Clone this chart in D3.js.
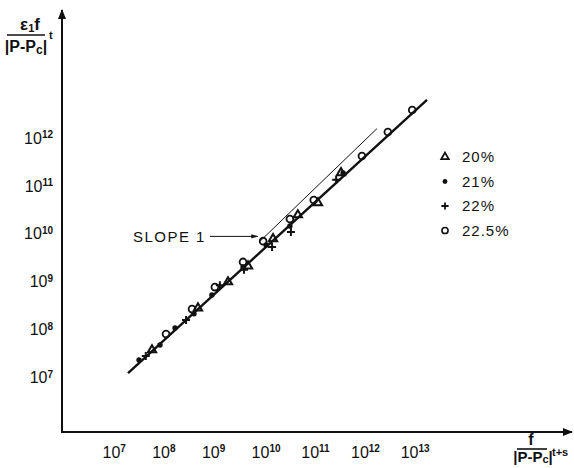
<!DOCTYPE html>
<html><head><meta charset="utf-8">
<script src="https://cdn.jsdelivr.net/npm/d3@7"></script>
<style>
body{margin:0;background:#fff;}
text{font-family:"Liberation Sans",Arial,sans-serif;fill:#111;}
</style></head>
<body><svg id="c" width="574" height="468"></svg>
<script>
// ---- data ----
const xTickExps = [7, 8, 9, 10, 11, 12, 13];
const yTickExps = [7, 8, 9, 10, 11, 12];
const legendLabels = ["20%", "21%", "22%", "22.5%"];

const s20x = [6.68e7, 5.62e8, 2.26e9, 5.71e9, 1.82e10, 5.75e10, 1.46e11, 4.25e11];
const s20y = [3.52e7, 2.63e8, 9.27e8, 2.0e9, 7.35e9, 2.33e10, 4.15e10, 1.76e11];

const s21x = [3.66e7, 9.68e7, 1.94e8, 4.68e8, 1.07e9, 4.53e9, 1.32e10, 3.98e10, 4.68e11];
const s21y = [2.17e7, 4.47e7, 1.01e8, 2.0e8, 4.97e8, 1.91e9, 5.5e9, 1.37e10, 1.76e11];

const s22x = [5.01e7, 3.24e8, 1.55e9, 4.74e9, 1.74e10, 4.17e10, 3.39e11];
const s22y = [2.63e7, 1.48e8, 7.94e8, 1.66e9, 5.01e9, 1.02e10, 1.26e11];

const s225x = [1.28e8, 4.27e8, 1.23e9, 4.53e9, 1.15e10, 3.98e10, 1.2e11, 1.12e12, 3.72e12, 1.15e13];
const s225y = [7.59e7, 2.51e8, 7.24e8, 2.43e9, 6.61e9, 1.91e10, 4.79e10, 3.98e11, 1.26e12, 3.63e12];

const fitX = [2.2e7, 2.28e13];
const fitY = [1.16e7, 5.89e12];
const slopeX = [1.0e10, 2.24e12];
const slopeY = [6.6e9, 1.48e12];
const slopeLabel = "SLOPE 1";
const slopeArrowX = [9.8e8, 8.9e9];
const slopeArrowY = [8.3e9, 8.3e9];

// ---- drawing ----
const svg = d3.select("#c");
const x = d3.scaleLog().domain([1e7, 1e13]).range([111, 409.2]);
const y = d3.scaleLog().domain([1e7, 1e12]).range([376.1, 136.8]);
const X0 = 62, Y0 = 432;

const defs = svg.append("defs");
defs.append("marker").attr("id","ah").attr("viewBox","0 0 10 10").attr("refX",9).attr("refY",5)
  .attr("markerWidth",5).attr("markerHeight",5).attr("orient","auto")
  .append("path").attr("d","M0,1 L10,5 L0,9 Z").attr("fill","#111");
defs.append("marker").attr("id","ah2").attr("viewBox","0 0 10 10").attr("refX",9).attr("refY",5)
  .attr("markerWidth",7).attr("markerHeight",7).attr("orient","auto")
  .append("path").attr("d","M0,2 L10,5 L0,8 Z").attr("fill","#111");

// axis lines
svg.append("line").attr("x1",X0).attr("y1",Y0).attr("x2",X0).attr("y2",10)
  .attr("stroke","#111").attr("stroke-width",2).attr("marker-end","url(#ah)");
svg.append("line").attr("x1",X0-1).attr("y1",Y0).attr("x2",572).attr("y2",Y0)
  .attr("stroke","#111").attr("stroke-width",2).attr("marker-end","url(#ah)");

function supLabels(g, exps, anchorMid){
  g.select(".domain").remove();
  g.selectAll(".tick line").remove();
  g.selectAll(".tick text").each(function(d){
    const t = d3.select(this).text(null).style("font-size","16px");
    const e = Math.round(Math.log10(d));
    if(anchorMid){ t.attr("text-anchor","start").attr("x",-9); }
    t.append("tspan").text("10");
    t.append("tspan").attr("dy","-0.55em").style("font-size","10px").style("font-weight","bold").text(e);
  });
}
const gx = svg.append("g").attr("transform",`translate(0,${Y0})`)
  .call(d3.axisBottom(x).tickValues(xTickExps.map(e=>Math.pow(10,e))).tickSize(0).tickPadding(9));
supLabels(gx, xTickExps, true);
gx.selectAll(".tick text").attr("dy","1.05em");

const gy = svg.append("g").attr("transform",`translate(${X0},0)`)
  .call(d3.axisLeft(y).tickValues(yTickExps.map(e=>Math.pow(10,e))).tickSize(0).tickPadding(9));
supLabels(gy, yTickExps, false);
gy.selectAll(".tick text").attr("dy","0.4em");

// fit line & slope-1 line
const line = d3.line().x(d=>x(d[0])).y(d=>y(d[1]));
svg.append("path").attr("d", line(d3.zip(fitX, fitY))).attr("stroke","#111").attr("stroke-width",2.4).attr("fill","none");
svg.append("path").attr("d", line(d3.zip(slopeX, slopeY))).attr("stroke","#111").attr("stroke-width",1).attr("fill","none");

// markers
const tri = d3.symbol().type(d3.symbolTriangle).size(30);
function drawMarker(g, type){
  if(type===0) g.append("path").attr("d",tri()).attr("fill","none").attr("stroke","#111").attr("stroke-width",2);
  else if(type===1) g.append("circle").attr("r",2.7).attr("fill","#111");
  else if(type===2) g.append("path").attr("d","M-4,0H4M0,-4V4").attr("stroke","#111").attr("stroke-width",2);
  else g.append("circle").attr("r",3.4).attr("fill","none").attr("stroke","#111").attr("stroke-width",1.8);
}
const series = [[s20x,s20y],[s21x,s21y],[s22x,s22y],[s225x,s225y]];
series.forEach((s,i)=>{
  d3.zip(s[0],s[1]).forEach(p=>{
    drawMarker(svg.append("g").attr("transform",`translate(${x(p[0])},${y(p[1])})`), i);
  });
});

// legend
const lg = svg.append("g").attr("transform","translate(445,157)");
legendLabels.forEach((l,i)=>{
  const r = lg.append("g").attr("transform",`translate(0,${i*24.5})`);
  drawMarker(r.append("g").attr("transform","scale(0.9)"), i);
  r.append("text").attr("x",17).attr("dy","0.36em").style("font-size","15px").style("letter-spacing","1px").text(l);
});

// slope annotation
svg.append("text").attr("x", x(slopeArrowX[0])-4).attr("y", y(slopeArrowY[0])).attr("dy","0.36em")
  .attr("text-anchor","end").style("font-size","15px").style("letter-spacing","1.5px").text(slopeLabel);
svg.append("line").attr("x1",x(slopeArrowX[0])).attr("y1",y(slopeArrowY[0])).attr("x2",x(slopeArrowX[1])).attr("y2",y(slopeArrowY[1]))
  .attr("stroke","#111").attr("stroke-width",1).attr("marker-end","url(#ah2)");

// y-axis label
const yl = svg.append("g");
yl.append("text").attr("x",30).attr("y",30).attr("text-anchor","middle").style("font-size","17px").style("font-weight","bold")
  .html('ε<tspan font-size="11px" dy="2">1</tspan><tspan dy="-2">f</tspan>');
yl.append("line").attr("x1",7).attr("x2",45).attr("y1",35).attr("y2",35).attr("stroke","#111").attr("stroke-width",1.6);
yl.append("text").attr("x",26).attr("y",52).attr("text-anchor","middle").style("font-size","16px").style("font-weight","bold")
  .html('|P-P<tspan font-size="12px" dy="2">c</tspan><tspan dy="-2">|</tspan>');
yl.append("text").attr("x",49).attr("y",39).style("font-size","11px").style("font-weight","bold").text("t");

// x-axis label
const xl = svg.append("g");
xl.append("text").attr("x",531).attr("y",445).attr("text-anchor","middle").style("font-size","16px").style("font-weight","bold").text("f");
xl.append("line").attr("x1",517).attr("x2",547).attr("y1",449).attr("y2",449).attr("stroke","#111").attr("stroke-width",1.6);
xl.append("text").attr("x",533).attr("y",462).attr("text-anchor","middle").style("font-size","15px").style("font-weight","bold")
  .html('|P-P<tspan font-size="11px" dy="1">c</tspan><tspan dy="-1">|</tspan>');
xl.append("text").attr("x",552).attr("y",456).style("font-size","11px").style("font-weight","bold").text("t+s");
</script></body></html>
